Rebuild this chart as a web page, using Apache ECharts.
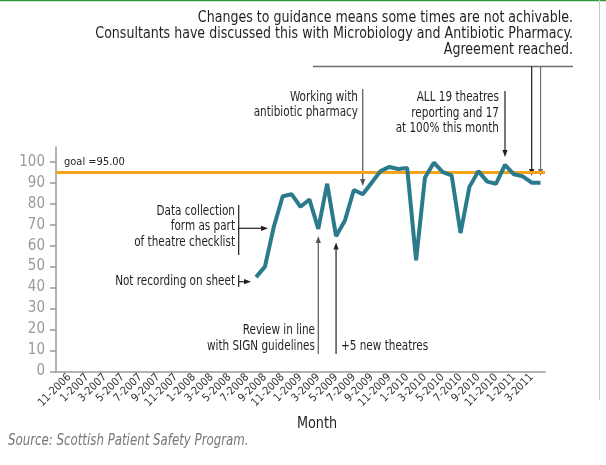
<!DOCTYPE html>
<html>
<head>
<meta charset="utf-8">
<script src="https://cdn.jsdelivr.net/npm/echarts@6/dist/echarts.min.js"></script>
<style>
  html, body { margin: 0; padding: 0; background: #fff; }
  #main { width: 606px; height: 465px; }
</style>
</head>
<body>
<div id="main"></div>
<script>
// months on the axis (one padding month on each side of the labelled range)
const months = [
  '10-2006', '11-2006', '12-2006',
  '1-2007', '2-2007', '3-2007', '4-2007', '5-2007', '6-2007', '7-2007', '8-2007', '9-2007', '10-2007', '11-2007', '12-2007',
  '1-2008', '2-2008', '3-2008', '4-2008', '5-2008', '6-2008', '7-2008', '8-2008', '9-2008', '10-2008', '11-2008', '12-2008',
  '1-2009', '2-2009', '3-2009', '4-2009', '5-2009', '6-2009', '7-2009', '8-2009', '9-2009', '10-2009', '11-2009', '12-2009',
  '1-2010', '2-2010', '3-2010', '4-2010', '5-2010', '6-2010', '7-2010', '8-2010', '9-2010', '10-2010', '11-2010', '12-2010',
  '1-2011', '2-2011', '3-2011', '4-2011'
]
// months that have a recorded value
const dataMonths = [
  '8-2008', '9-2008', '10-2008', '11-2008', '12-2008',
  '1-2009', '2-2009', '3-2009', '4-2009', '5-2009', '6-2009', '7-2009', '8-2009', '9-2009', '10-2009', '11-2009', '12-2009',
  '1-2010', '2-2010', '3-2010', '4-2010', '5-2010', '6-2010', '7-2010', '8-2010', '9-2010', '10-2010', '11-2010', '12-2010',
  '1-2011', '2-2011', '3-2011', '4-2011'
]
const compliance = [
  45, 50, 69, 83.5, 84.5,
  78.5, 82, 68, 89.5, 64.5, 72, 86.5, 84.5, 90, 95.5, 97.5, 96.5,
  97, 53, 92.5, 99.5, 95, 93.5, 66, 88, 95.5, 90.5, 89.5, 98.5,
  94, 93, 90, 90
]
const yTicks = [0, 10, 20, 30, 40, 50, 60, 70, 80, 90, 100]
const goal = 95

const FONT = "'DejaVu Sans Condensed', 'Roboto', sans-serif"
const INK = '#231f20'

const chart = echarts.init(document.getElementById('main'))

const option = {
  animation: false,
  textStyle: { fontFamily: FONT },
  grid: { left: 56, right: 61, top: 147, bottom: 93.5, containLabel: false },
  xAxis: {
    type: 'category',
    data: months,
    boundaryGap: true,
    axisLine: { lineStyle: { color: '#9a9a9a', width: 1.5 } },
    axisTick: {
      alignWithLabel: true,
      length: 5,
      interval: (i) => i % 2 === 1,
      lineStyle: { color: '#9a9a9a', width: 1.5 }
    },
    axisLabel: {
      interval: (i) => i % 2 === 1,
      rotate: 45,
      margin: 4,
      fontSize: 11,
      color: '#333',
      fontFamily: FONT
    },
    splitLine: { show: false }
  },
  yAxis: {
    type: 'value',
    min: 0,
    max: 107,
    interval: 10,
    axisLine: { show: true, lineStyle: { color: '#9a9a9a', width: 1.5 } },
    axisTick: { show: true, length: 6, customValues: yTicks, lineStyle: { color: '#9a9a9a', width: 1.5 } },
    axisLabel: { customValues: yTicks, fontSize: 15, color: '#9a9a9a', margin: 11, fontFamily: FONT },
    splitLine: { show: false }
  },
  series: [{
    type: 'line',
    data: dataMonths.map((m, k) => [m, compliance[k]]),
    symbol: 'none',
    lineStyle: { color: '#2b7b8c', width: 4 },
    z: 3,
    markLine: {
      silent: true,
      symbol: 'none',
      data: [{ yAxis: goal }],
      lineStyle: { color: '#f5a21c', width: 3, type: 'solid' },
      label: {
        position: 'insideStartTop',
        formatter: 'goal =95.00',
        color: INK,
        fontSize: 11,
        distance: [8, 5],
        fontFamily: FONT
      },
      z: 2
    }
  }]
}

chart.setOption(option)

// annotation helpers
function px(month) {
  return chart.convertToPixel({ xAxisIndex: 0, yAxisIndex: 0 }, [month, 0])[0]
}
function seg(x1, y1, x2, y2, color, w) {
  return { type: 'line', shape: { x1, y1, x2, y2 }, style: { stroke: color || INK, lineWidth: w || 1.2 }, silent: true }
}
function arrow(x1, y1, x2, y2, color) {
  const a = Math.atan2(y2 - y1, x2 - x1)
  const L = 7, W = 2.6
  const bx = x2 - L * Math.cos(a), by = y2 - L * Math.sin(a)
  const nx = -Math.sin(a) * W, ny = Math.cos(a) * W
  return [
    seg(x1, y1, bx, by, color),
    { type: 'polygon', shape: { points: [[x2, y2], [bx + nx, by + ny], [bx - nx, by - ny]] }, style: { fill: color || INK }, silent: true }
  ]
}
// condensed look: squeeze the text horizontally around its anchor
function note(x, y, text, align, extra, sx) {
  return {
    type: 'text', x, y, scaleX: sx || 0.83, silent: true,
    style: Object.assign({
      text, fill: INK, font: '14px ' + FONT, align: align || 'right',
      verticalAlign: 'middle', lineHeight: 15.5
    }, extra || {})
  }
}

const xMar11 = px('3-2011'), xApr11 = px('4-2011')
const g = [
  // top border and right rule
  seg(0, 0.5, 606, 0.5, '#2e9b3f', 1.5),
  seg(599.5, 0, 599.5, 400, '#c8c8c8', 1),
  note(573, 34, 'Changes to guidance means some times are not achivable.\nConsultants have discussed this with Microbiology and Antibiotic Pharmacy.\nAgreement reached.', 'right', { font: '15.5px ' + FONT, lineHeight: 16 }, 0.905),
  seg(313, 66.5, 573, 66.5, '#6d6d6d', 1.5),
  ...arrow(xMar11, 66.5, xMar11, 176),
  ...arrow(xApr11, 66.5, xApr11, 176, '#6d6d6d'),

  note(358, 105, 'Working with\nantibiotic pharmacy'),
  ...arrow(px('8-2009'), 89, px('8-2009'), 186, '#555'),

  note(499, 113, 'ALL 19 theatres\nreporting and 17\nat 100% this month'),
  ...arrow(px('12-2010'), 91, px('12-2010'), 157),

  note(235, 226.5, 'Data collection\nform as part\nof theatre checklist'),
  seg(238.7, 205, 238.7, 255),
  ...arrow(238.7, 228.3, 268, 228.3),

  note(235, 281.5, 'Not recording on sheet'),
  seg(238.7, 275, 238.7, 287),
  ...arrow(238.7, 281.7, 251, 281.7),

  note(315, 338.5, 'Review in line\nwith SIGN guidelines'),
  ...arrow(px('3-2009'), 354, px('3-2009'), 236, '#555'),

  note(341, 346, '+5 new theatres', 'left'),
  ...arrow(px('5-2009'), 354, px('5-2009'), 242.5),

  note(317, 424, 'Month', 'center', { font: '16px ' + FONT }, 0.89),
  note(8, 441, 'Source: Scottish Patient Safety Program.', 'left', { font: 'italic 16px ' + FONT, fill: '#777' }, 0.82)
]

chart.setOption({ graphic: g })
</script>
</body>
</html>
